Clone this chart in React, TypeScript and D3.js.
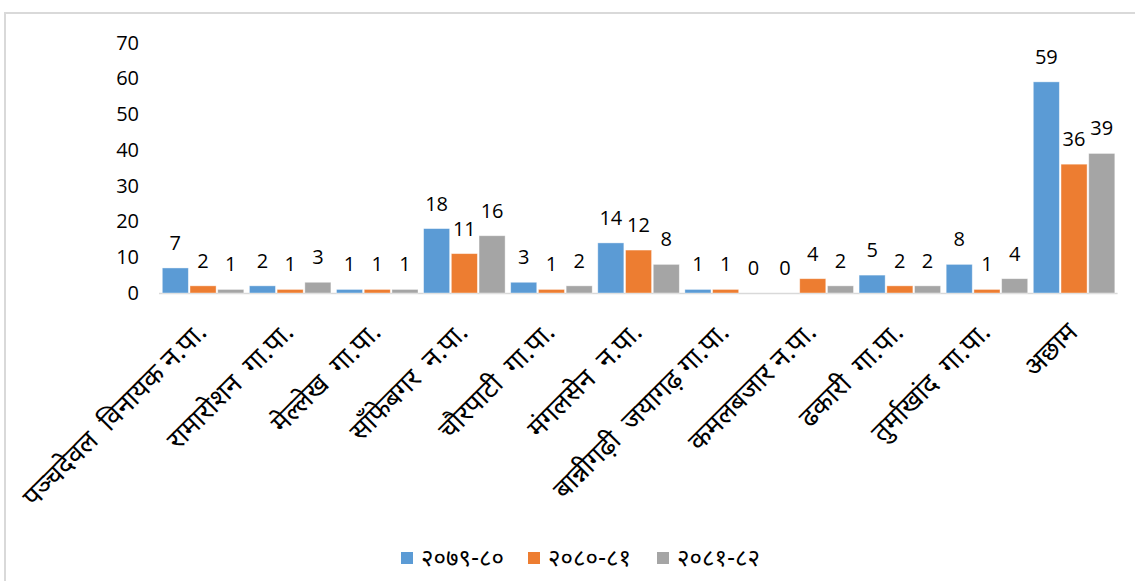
import React from "react";
import * as d3 from "d3";

const categories = [
  "पञ्चदेवल  विनायक न.पा.",
  "रामारोशन  गा.पा.",
  "मेल्लेख  गा.पा.",
  "साँफेबगर  न.पा.",
  "चौरपाटी  गा.पा.",
  "मंगलसेन  न.पा.",
  "बान्नीगढ़ी  जयागढ़ गा.पा.",
  "कमलबजार न.पा.",
  "ढकारी  गा.पा.",
  "तुर्माखांद  गा.पा.",
  "अछाम",
];
const seriesNames = ["२०७९-८०", "२०८०-८१", "२०८१-८२"];
const s1 = [7, 2, 1, 18, 3, 14, 1, 0, 5, 8, 59];
const s2 = [2, 1, 1, 11, 1, 12, 1, 4, 2, 1, 36];
const s3 = [1, 3, 1, 16, 2, 8, 0, 2, 2, 4, 39];
const seriesValues = [s1, s2, s3];
const yTicks = [0, 10, 20, 30, 40, 50, 60, 70];
const colors = ["#5B9BD5", "#ED7D31", "#A5A5A5"];

const W = 1135;
const H = 581;
const latin = "'Open Sans', 'Noto Sans', sans-serif";
const deva = "'Noto Sans Devanagari', 'Mangal', 'Lohit Devanagari', 'Noto Sans', sans-serif";

export default function App() {
  const x = d3
    .scaleBand<string>()
    .domain(categories)
    .range([159.5, 1117.6])
    .paddingInner(0.064)
    .paddingOuter(0.032);
  const xs = d3
    .scaleBand<number>()
    .domain([0, 1, 2])
    .range([0, x.bandwidth()])
    .paddingInner(0.06)
    .paddingOuter(0);
  const y = d3.scaleLinear().domain([0, 70]).range([293, 42.5]);

  return (
    <svg
      width={W}
      height={H}
      style={{ position: "absolute", left: 0, top: 0, background: "#fff" }}
    >
      <rect x={5} y={13} width={1140} height={600} fill="#fff" stroke="#d9d9d9" strokeWidth={2} />
      {yTicks.map((t) => (
        <text
          key={t}
          x={139}
          y={y(t)}
          dy="0.35em"
          textAnchor="end"
          fontFamily={latin}
          fontSize={20}
          fill="#000"
        >
          {t}
        </text>
      ))}
      <line x1={159} x2={1117.6} y1={y(0) + 0.5} y2={y(0) + 0.5} stroke="#d9d9d9" strokeWidth={1.5} />
      {categories.map((c, i) => (
        <g key={c} transform={`translate(${x(c)},0)`}>
          {seriesValues.map((vals, si) => {
            const v = vals[i];
            const bx = xs(si)!;
            const bw = xs.bandwidth();
            return (
              <g key={si}>
                {v > 0 && (
                  <rect
                    x={bx}
                    y={y(v)}
                    width={bw}
                    height={y(0) - y(v)}
                    fill={colors[si]}
                    stroke="#ffffff"
                    strokeOpacity={0.5}
                    strokeWidth={0.8}
                  />
                )}
                <text
                  x={bx + bw / 2}
                  y={y(v) - 18}
                  textAnchor="middle"
                  fontFamily={latin}
                  fontSize={20}
                  fill="#000"
                >
                  {v}
                </text>
              </g>
            );
          })}
        </g>
      ))}
      {categories.map((c) => {
        const cx = x(c)! + x.bandwidth() / 2;
        return (
          <text
            key={"l" + c}
            transform={`translate(${cx + 5},${334}) rotate(-45)`}
            textAnchor="end"
            fontFamily={deva}
            fontSize={27}
            fill="#000"
            style={{ whiteSpace: "pre" }}
          >
            {c}
          </text>
        );
      })}
      {seriesNames.map((n, i) => {
        const lx = [401, 528, 657][i];
        return (
          <g key={n}>
            <rect x={lx} y={552} width={12} height={12} fill={colors[i]} />
            <text x={lx + 20} y={558} dy="0.35em" fontFamily={deva} fontSize={24} fill="#000">
              {n}
            </text>
          </g>
        );
      })}
    </svg>
  );
}
